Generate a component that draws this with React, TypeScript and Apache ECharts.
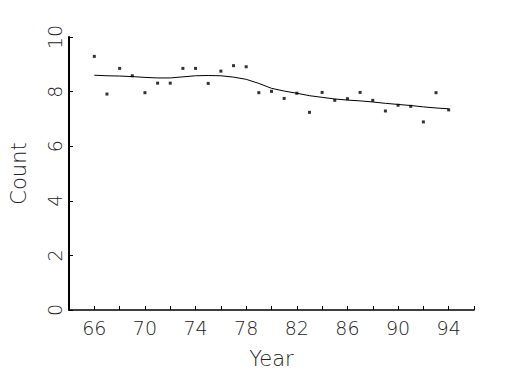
import React, { useEffect, useRef } from "react";
import * as echarts from "echarts";

const years = [66, 67, 68, 69, 70, 71, 72, 73, 74, 75, 76, 77, 78, 79, 80, 81, 82, 83, 84, 85, 86, 87, 88, 89, 90, 91, 92, 93, 94];
const counts = [9.29, 7.91, 8.85, 8.58, 7.96, 8.31, 8.31, 8.85, 8.85, 8.3, 8.75, 8.95, 8.91, 7.96, 8.01, 7.75, 7.94, 7.24, 7.97, 7.68, 7.74, 7.97, 7.68, 7.29, 7.5, 7.46, 6.89, 7.96, 7.33];
const smooth = [8.6, 8.58, 8.57, 8.55, 8.52, 8.5, 8.5, 8.54, 8.58, 8.59, 8.58, 8.53, 8.45, 8.3, 8.12, 8.02, 7.94, 7.85, 7.79, 7.73, 7.69, 7.66, 7.62, 7.57, 7.53, 7.49, 7.44, 7.4, 7.37];
const xLabelYears = [66, 70, 74, 78, 82, 86, 90, 94];

const font = "DejaVu Sans";

export default function App() {
  const ref = useRef<HTMLDivElement>(null);
  useEffect(() => {
    if (!ref.current) return;
    const chart = echarts.init(ref.current, undefined, { renderer: "svg" });
    chart.setOption({
      animation: false,
      backgroundColor: "#ffffff",
      grid: { left: 68, right: 51, top: 37, bottom: 65 },
      xAxis: {
        type: "value",
        min: 64,
        max: 96,
        interval: 2,
        name: "Year",
        nameLocation: "middle",
        nameGap: 38,
        nameTextStyle: { fontFamily: font, fontSize: 21, fontWeight: 200, color: "#222" },
        axisLine: { lineStyle: { color: "#000", width: 1.5 } },
        axisTick: { inside: true, length: 4, lineStyle: { color: "#000" } },
        splitLine: { show: false },
        axisLabel: {
          fontFamily: font,
          fontSize: 19,
          fontWeight: 200,
          color: "#222",
          margin: 8,
          formatter: (v: number) => (xLabelYears.includes(v) ? String(v) : ""),
        },
      },
      yAxis: {
        type: "value",
        min: 0,
        max: 10,
        interval: 2,
        name: "Count",
        nameLocation: "middle",
        nameGap: 40,
        nameTextStyle: { fontFamily: font, fontSize: 21, fontWeight: 200, color: "#222" },
        axisLine: { show: true, lineStyle: { color: "#000", width: 2 } },
        axisTick: { show: true, inside: true, length: 4, lineStyle: { color: "#000" } },
        splitLine: { show: false },
        axisLabel: {
          rotate: 90,
          fontFamily: font,
          fontSize: 19,
          fontWeight: 200,
          color: "#222",
          margin: 5,
        },
      },
      series: [
        {
          type: "scatter",
          data: years.map((y, i) => [y, counts[i]]),
          symbol: "rect",
          symbolSize: 3,
          itemStyle: { color: "#000" },
        },
        {
          type: "line",
          data: years.map((y, i) => [y, smooth[i]]),
          showSymbol: false,
          symbol: "none",
          lineStyle: { color: "#000", width: 1 },
        },
      ],
    });
    return () => chart.dispose();
  }, []);
  return <div ref={ref} style={{ width: 525, height: 375, position: "absolute", left: 0, top: 0 }} />;
}
